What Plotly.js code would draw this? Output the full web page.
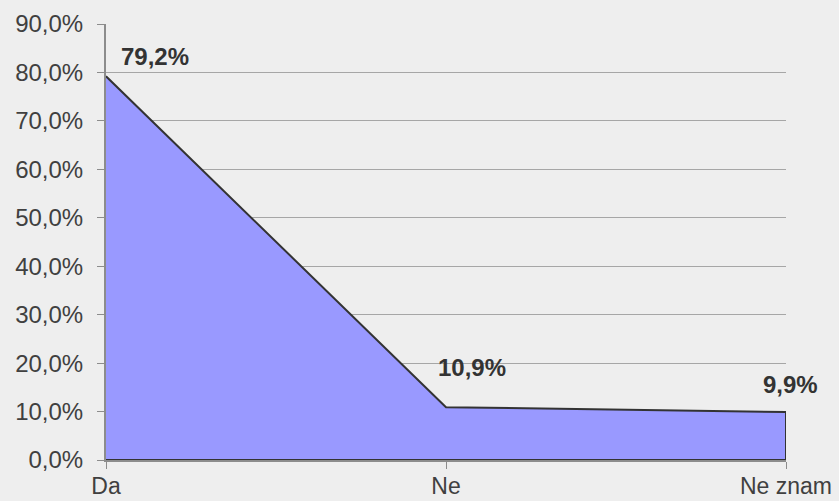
<!DOCTYPE html>
<html>
<head>
<meta charset="utf-8">
<script src="https://cdn.plot.ly/plotly-3.0.1.min.js"></script>
<style>html,body{margin:0;padding:0;background:#eeeeee;}#chart{width:839px;height:501px;}</style>
</head>
<body>
<div id="chart"></div>
<script>
const categories = ["Da", "Ne", "Ne znam"];
const values = [79.2, 10.9, 9.9];
const labels = ["79,2%", "10,9%", "9,9%"];
const yTicks = [0, 10, 20, 30, 40, 50, 60, 70, 80, 90];
const yTickLabels = ["0,0%", "10,0%", "20,0%", "30,0%", "40,0%", "50,0%", "60,0%", "70,0%", "80,0%", "90,0%"];

// label placement style (pixel offsets)
const labelXShift = [49, 26, 4];
const labelYShift = [20, 40, 28];

const polyX = categories.concat([categories[categories.length - 1], categories[0]]);
const polyY = values.concat([0, 0]);

const trace = {
  type: "scatter",
  mode: "lines",
  x: polyX,
  y: polyY,
  fill: "toself",
  fillcolor: "#9999ff",
  line: {color: "#333333", width: 2},
  hoverinfo: "skip"
};

const annotations = categories.map((c, i) => ({
  x: c, y: values[i], text: labels[i], showarrow: false,
  xshift: labelXShift[i], yshift: labelYShift[i],
  font: {family: "Liberation Sans, Arial, sans-serif", size: 24, color: "#333333", weight: "bold"}
}));

const layout = {
  width: 839, height: 501,
  paper_bgcolor: "#eeeeee", plot_bgcolor: "#eeeeee",
  margin: {l: 106, r: 53, t: 24, b: 41},
  showlegend: false,
  font: {family: "Liberation Sans, Arial, sans-serif", size: 24, color: "#404040"},
  xaxis: {
    type: "category", categoryorder: "array", categoryarray: categories,
    range: [0, categories.length - 1],
    showgrid: false, zeroline: false,
    showline: true, linecolor: "#8c8c8c", linewidth: 2,
    ticks: "outside", ticklen: 7, tickcolor: "#8c8c8c", tickwidth: 1,
    ticklabelstandoff: -3,
    tickfont: {size: 23, color: "#404040"}
  },
  yaxis: {
    range: [0, 90], tickmode: "array", tickvals: yTicks, ticktext: yTickLabels,
    showgrid: true, gridcolor: "#a6a6a6", gridwidth: 1,
    zeroline: false, showline: true, linecolor: "#8c8c8c", linewidth: 2,
    ticks: "outside", ticklen: 7, tickcolor: "#8c8c8c", tickwidth: 1,
    ticklabelstandoff: 9,
    tickfont: {size: 24, color: "#404040"}
  },
  annotations: annotations
};

Plotly.newPlot("chart", [trace], layout, {displayModeBar: false, staticPlot: true});
</script>
</body>
</html>
